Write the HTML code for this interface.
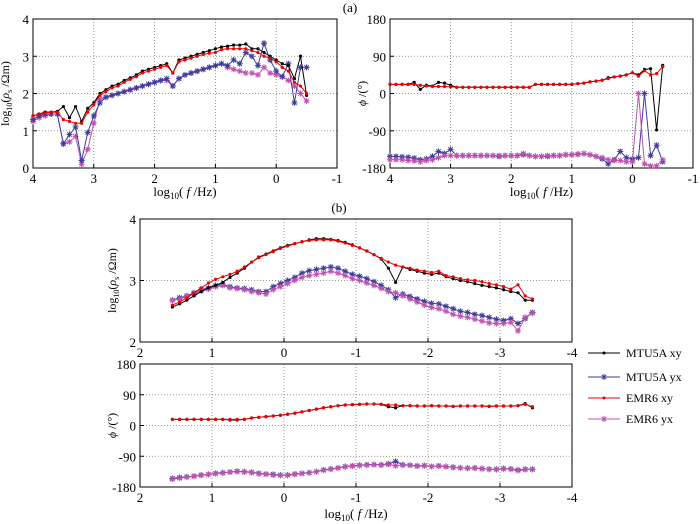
<!DOCTYPE html>
<html><head><meta charset="utf-8"><style>
body{margin:0;background:#fff}
svg{display:block}
svg text{font-family:"Liberation Serif","DejaVu Serif",serif}
</style></head><body>
<svg id="c" width="700" height="524" viewBox="0 0 700 524" xmlns="http://www.w3.org/2000/svg" font-family="Liberation Serif, serif">
<text x="350" y="12" font-size="13" text-anchor="middle">(a)</text>
<text x="339" y="212" font-size="13" text-anchor="middle">(b)</text>
<g>
<g><line x1="588" y1="353" x2="620" y2="353" stroke="#000"/><circle cx="604" cy="353" r="1.5"/><text x="626" y="357" font-size="12">MTU5A xy</text></g>
<g><line x1="588" y1="377" x2="620" y2="377" stroke="#3c3c9c"/><path d="M601,377H607M604,374V380M601.8,374.8L606.2,379.2M601.8,379.2L606.2,374.8" stroke="#3c3c9c"/><text x="626" y="381" font-size="12">MTU5A yx</text></g>
<g><line x1="588" y1="398" x2="620" y2="398" stroke="#e00"/><circle cx="604" cy="398" r="1.5" fill="#e00"/><text x="626" y="402" font-size="12">EMR6 xy</text></g>
<g><line x1="588" y1="419" x2="620" y2="419" stroke="#c050b0"/><path d="M601,419H607M604,416V422M601.8,416.8L606.2,421.2M601.8,421.2L606.2,416.8" stroke="#c050b0"/><text x="626" y="423" font-size="12">EMR6 yx</text></g>
</g>
</svg>
<script>
// Panel (a) data: log10 f from 4 to -0.5 step 0.1
const aFreq=[4.0,3.9,3.8,3.7,3.6,3.5,3.4,3.3,3.2,3.1,3.0,2.9,2.8,2.7,2.6,2.5,2.4,2.3,2.2,2.1,2.0,1.9,1.8,1.7,1.6,1.5,1.4,1.3,1.2,1.1,1.0,0.9,0.8,0.7,0.6,0.5,0.4,0.3,0.2,0.1,0.0,-0.1,-0.2,-0.3,-0.4,-0.5];
const aRhoMtuXy=[1.4,1.45,1.5,1.5,1.52,1.65,1.35,1.65,1.25,1.6,1.75,2.0,2.1,2.2,2.25,2.35,2.42,2.5,2.6,2.65,2.7,2.75,2.8,2.55,2.9,2.95,3.0,3.05,3.1,3.15,3.2,3.25,3.27,3.3,3.3,3.33,3.2,3.2,3.1,3.0,2.9,2.8,2.75,2.4,3.0,1.95];
const aRhoEmrXy=[1.4,1.45,1.48,1.5,1.5,1.3,1.25,1.2,1.2,1.5,1.7,1.95,2.05,2.15,2.2,2.3,2.38,2.45,2.55,2.6,2.65,2.7,2.75,2.55,2.85,2.9,2.95,3.0,3.05,3.08,3.1,3.18,3.2,3.2,3.2,3.2,3.15,3.1,3.0,2.95,2.85,2.7,2.6,2.3,2.2,2.0];
const aRhoMtuYx=[1.3,1.4,1.45,1.45,1.45,0.65,0.9,1.1,0.2,0.95,1.4,1.75,1.9,1.95,2.0,2.05,2.1,2.15,2.2,2.25,2.3,2.35,2.4,2.2,2.4,2.5,2.55,2.6,2.65,2.7,2.75,2.8,2.75,2.9,2.8,3.1,3.0,2.75,3.35,2.9,2.6,2.45,2.8,1.75,2.7,2.7];
const aRhoEmrYx=[1.25,1.35,1.4,1.45,1.45,0.65,0.7,0.85,0.1,0.5,1.2,1.85,1.9,1.95,2.0,2.05,2.1,2.15,2.2,2.25,2.3,2.35,2.35,2.2,2.4,2.5,2.55,2.6,2.65,2.7,2.75,2.8,2.7,2.65,2.6,2.55,2.55,2.5,2.7,2.55,2.5,2.45,2.35,2.2,2.0,1.8];
const aPhiMtuXy=[22,22,22,22,27,10,20,18,27,25,20,15,15,15,15,15,15,15,15,15,15,15,15,15,22,22,22,22,22,22,22,24,25,28,30,32,38,40,42,45,50,45,58,60,-88,68];
const aPhiEmrXy=[22,22,22,22,22,20,18,17,17,17,16,15,15,15,15,15,15,15,15,15,15,15,15,15,22,22,22,22,22,22,22,24,25,28,30,32,36,40,42,45,50,42,55,45,48,65];
const aPhiMtuYx=[-152,-152,-153,-154,-156,-160,-158,-152,-140,-145,-135,-150,-150,-150,-150,-150,-150,-150,-152,-150,-150,-150,-148,-150,-152,-152,-152,-150,-150,-148,-148,-147,-145,-148,-152,-158,-170,-160,-140,-155,-158,-155,0,-150,-125,-165];
const aPhiEmrYx=[-160,-160,-160,-162,-163,-165,-162,-160,-155,-150,-150,-150,-150,-150,-150,-150,-150,-150,-150,-150,-150,-150,-145,-150,-152,-152,-150,-150,-150,-148,-148,-146,-145,-148,-152,-155,-160,-162,-162,-165,-165,0,-170,-175,-175,-160];
// Panel (b) data: log10 f from 1.55 to -3.45 step 0.1
const bFreq=[1.55,1.45,1.35,1.25,1.15,1.05,0.95,0.85,0.75,0.65,0.55,0.45,0.35,0.25,0.15,0.05,-0.05,-0.15,-0.25,-0.35,-0.45,-0.55,-0.65,-0.75,-0.85,-0.95,-1.05,-1.15,-1.25,-1.35,-1.45,-1.55,-1.65,-1.75,-1.85,-1.95,-2.05,-2.15,-2.25,-2.35,-2.45,-2.55,-2.65,-2.75,-2.85,-2.95,-3.05,-3.15,-3.25,-3.35,-3.45];
const bRhoMtuXy=[2.57,2.62,2.68,2.75,2.82,2.88,2.92,2.97,3.05,3.12,3.2,3.3,3.38,3.43,3.48,3.53,3.57,3.6,3.63,3.66,3.68,3.68,3.67,3.65,3.62,3.58,3.53,3.48,3.42,3.35,3.2,2.97,3.22,3.18,3.15,3.12,3.1,3.12,3.06,3.03,3.0,2.98,2.95,2.92,2.9,2.88,2.85,2.82,2.8,2.68,2.68];
const bRhoEmrXy=[2.6,2.65,2.72,2.8,2.88,2.96,3.02,3.06,3.1,3.15,3.22,3.3,3.37,3.42,3.47,3.52,3.56,3.6,3.63,3.65,3.66,3.66,3.66,3.64,3.61,3.57,3.53,3.48,3.42,3.36,3.3,3.25,3.22,3.2,3.17,3.15,3.13,3.15,3.08,3.06,3.03,3.01,3.0,2.98,2.95,2.93,2.9,2.86,2.93,2.75,2.7];
const bRhoMtuYx=[2.68,2.72,2.75,2.8,2.85,2.88,2.92,2.93,2.9,2.88,2.87,2.85,2.82,2.82,2.9,2.95,3.0,3.05,3.12,3.16,3.18,3.2,3.22,3.2,3.15,3.1,3.07,3.03,2.98,2.92,2.85,2.72,2.78,2.74,2.7,2.66,2.63,2.62,2.58,2.54,2.5,2.48,2.45,2.43,2.4,2.37,2.35,2.38,2.3,2.38,2.48];
const bRhoEmrYx=[2.68,2.7,2.74,2.78,2.83,2.86,2.9,2.92,2.88,2.87,2.85,2.82,2.8,2.78,2.85,2.9,2.95,3.0,3.05,3.08,3.1,3.12,3.15,3.12,3.08,3.03,3.0,2.96,2.92,2.87,2.82,2.8,2.75,2.7,2.65,2.6,2.56,2.54,2.5,2.45,2.42,2.4,2.37,2.34,2.31,2.3,2.3,2.32,2.18,2.4,2.47];
const bPhiEmrXy=[18,18,18,18,18,18,18,18,18,18,18,22,24,26,28,30,33,36,40,44,48,52,55,58,60,61,62,63,63,62,60,60,58,58,57,57,58,57,57,56,57,57,57,57,56,57,57,57,58,62,55];
const bPhiMtuXy=[18,18,18,18,18,18,18,18,16,16,18,22,24,26,28,30,33,36,40,44,48,52,55,58,60,61,62,63,63,62,55,52,58,58,57,57,58,57,57,56,57,57,57,57,56,57,57,57,58,64,52];
const bPhiMtuYx=[-155,-152,-150,-148,-145,-143,-140,-138,-136,-134,-135,-137,-140,-142,-143,-145,-145,-142,-140,-138,-135,-130,-127,-124,-120,-118,-116,-115,-114,-115,-112,-105,-115,-116,-118,-117,-120,-118,-120,-122,-124,-125,-124,-126,-128,-128,-126,-127,-130,-128,-128];
const bPhiEmrYx=[-157,-154,-151,-149,-146,-143,-141,-139,-137,-135,-136,-138,-141,-143,-145,-146,-146,-143,-141,-138,-135,-131,-128,-125,-121,-119,-117,-116,-115,-116,-114,-118,-116,-117,-119,-118,-120,-119,-121,-123,-124,-125,-125,-127,-128,-129,-127,-128,-132,-129,-129];

const NS='http://www.w3.org/2000/svg';
const svg=document.getElementById('c');
function el(tag,attrs,parent){const e=document.createElementNS(NS,tag);for(const k in attrs)e.setAttribute(k,attrs[k]);if(tag==='text')e.setAttribute('font-family','Liberation Serif, serif');(parent||svg).appendChild(e);return e;}
const C={bk:'#000',bl:'#3c3c9c',rd:'#e00',mg:'#c050b0'};

function panel(name,box,xr,yr,xticks,yticks,ylabelType,xlabelY){
  const g=el('g',{});
  
  
  const sx=v=>box.x0+(v-xr[0])/(xr[1]-xr[0])*(box.x1-box.x0);
  const sy=v=>box.y1-(v-yr[0])/(yr[1]-yr[0])*(box.y1-box.y0);
  const grid=el('g',{},g);
  
  
  xticks.forEach(t=>{const x=sx(t);
    el('line',{x1:x,x2:x,y1:box.y0,y2:box.y1,stroke:'#777','stroke-dasharray':'1,2','stroke-width':0.8},grid);
    el('line',{x1:x,x2:x,y1:box.y1,y2:box.y1-4,stroke:'#000'},grid);
    const tl=el('text',{x:x,y:box.y1+15,'font-size':13,'text-anchor':'middle'},g);
    
    
    tl.textContent=String(t);});
  yticks.forEach(t=>{const y=sy(t);
    el('line',{x1:box.x0,x2:box.x1,y1:y,y2:y,stroke:'#777','stroke-dasharray':'1,2','stroke-width':0.8},grid);
    el('line',{x1:box.x0,x2:box.x0+4,y1:y,y2:y,stroke:'#000'},grid);
    const tl=el('text',{x:box.x0-4,y:y+5,'font-size':13,'text-anchor':'end'},g);
    
    
    tl.textContent=String(t);});
  const fr=el('rect',{x:box.x0,y:box.y0,width:box.x1-box.x0,height:box.y1-box.y0,fill:'none',stroke:'#000','stroke-width':1},g);
  
  
  const cy=(box.y0+box.y1)/2, lx=box.x0-24;
  const yl=el('text',{transform:`translate(${lx},${cy}) rotate(-90)`,'font-size':12,'text-anchor':'middle'},g);
  
  
  if(ylabelType==='rho'){yl.innerHTML='log<tspan font-size="8" dy="3">10</tspan><tspan dy="-3">(</tspan><tspan font-style="italic">ρ</tspan><tspan font-size="8" dy="3">s</tspan><tspan dy="-3"> /Ωm)</tspan>';}
  else{yl.innerHTML='<tspan font-style="italic">ϕ</tspan> /(°)';}
  if(xlabelY){
    const xl=el('text',{x:(box.x0+box.x1)/2,y:xlabelY,'font-size':13,'text-anchor':'middle'},g);
    
    
    xl.innerHTML='log<tspan font-size="9" dy="3">10</tspan><tspan dy="-3">( </tspan><tspan font-style="italic">f</tspan> /Hz)';
  }
  return {g,sx,sy};
}

function series(p,name,xs,ys,color,marker){
  const s=el('g',{},p.g);
  
  
  const pts=xs.map((x,i)=>p.sx(x).toFixed(1)+','+p.sy(ys[i]).toFixed(1)).join(' ');
  el('polyline',{points:pts,fill:'none',stroke:color,'stroke-width':1},s);
  xs.forEach((x,i)=>{const cx=p.sx(x),cy=p.sy(ys[i]);
    let m;
    if(marker==='dot'){m=el('circle',{cx,cy,r:1.6,fill:color},s);}
    else{m=el('path',{d:`M${cx-3},${cy}H${cx+3}M${cx},${cy-3}V${cy+3}M${cx-2.2},${cy-2.2}L${cx+2.2},${cy+2.2}M${cx-2.2},${cy+2.2}L${cx+2.2},${cy-2.2}`,stroke:color,'stroke-width':1,fill:'none'},s);}
    
    
  });
}

const pa1=panel('panel-a-resistivity',{x0:33,x1:337,y0:19,y1:168},[4,-1],[0,4],[4,3,2,1,0,-1],[0,1,2,3,4],'rho',196);
series(pa1,'a-rho-emr6-yx',aFreq,aRhoEmrYx,C.mg,'star');
series(pa1,'a-rho-mtu5a-yx',aFreq,aRhoMtuYx,C.bl,'star');
series(pa1,'a-rho-mtu5a-xy',aFreq,aRhoMtuXy,C.bk,'dot');
series(pa1,'a-rho-emr6-xy',aFreq,aRhoEmrXy,C.rd,'dot');

const pa2=panel('panel-a-phase',{x0:390,x1:693,y0:19,y1:168},[4,-1],[-180,180],[4,3,2,1,0,-1],[-180,-90,0,90,180],'phi',196);
series(pa2,'a-phi-mtu5a-yx',aFreq,aPhiMtuYx,C.bl,'star');
series(pa2,'a-phi-emr6-yx',aFreq,aPhiEmrYx,C.mg,'star');
series(pa2,'a-phi-mtu5a-xy',aFreq,aPhiMtuXy,C.bk,'dot');
series(pa2,'a-phi-emr6-xy',aFreq,aPhiEmrXy,C.rd,'dot');

const pb1=panel('panel-b-resistivity',{x0:140,x1:572,y0:219,y1:342},[2,-4],[2,4],[2,1,0,-1,-2,-3,-4],[2,3,4],'rho',null);
series(pb1,'b-rho-mtu5a-yx',bFreq,bRhoMtuYx,C.bl,'star');
series(pb1,'b-rho-emr6-yx',bFreq,bRhoEmrYx,C.mg,'star');
series(pb1,'b-rho-mtu5a-xy',bFreq,bRhoMtuXy,C.bk,'dot');
series(pb1,'b-rho-emr6-xy',bFreq,bRhoEmrXy,C.rd,'dot');

const pb2=panel('panel-b-phase',{x0:140,x1:572,y0:364,y1:487},[2,-4],[-180,180],[2,1,0,-1,-2,-3,-4],[-180,-90,0,90,180],'phi',518);
series(pb2,'b-phi-mtu5a-yx',bFreq,bPhiMtuYx,C.bl,'star');
series(pb2,'b-phi-emr6-yx',bFreq,bPhiEmrYx,C.mg,'star');
series(pb2,'b-phi-mtu5a-xy',bFreq,bPhiMtuXy,C.bk,'dot');
series(pb2,'b-phi-emr6-xy',bFreq,bPhiEmrXy,C.rd,'dot');
</script>
</body></html>
